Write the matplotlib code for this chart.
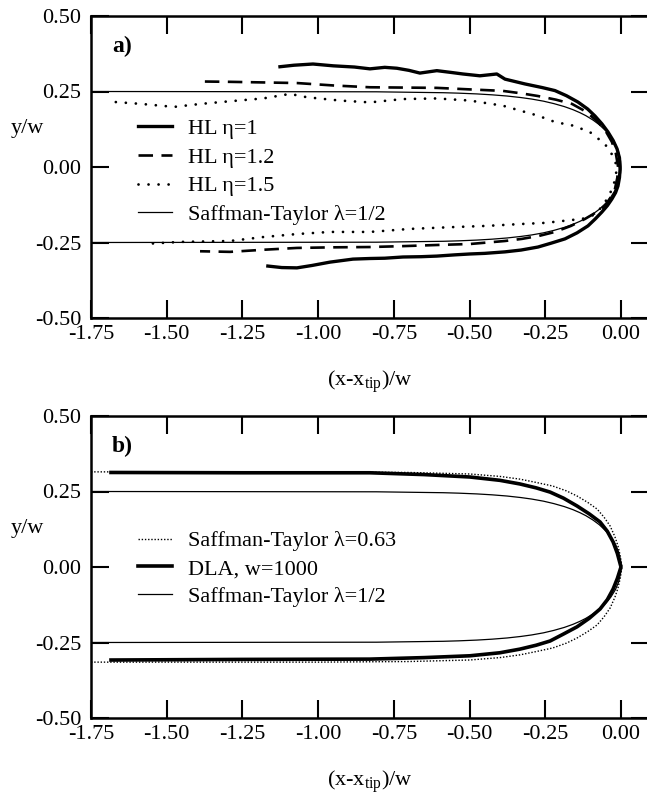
import matplotlib
matplotlib.use("Agg")
import matplotlib.pyplot as plt

plt.rcParams['font.family'] = ['Liberation Serif', 'DejaVu Serif']
plt.rcParams['mathtext.fontset'] = 'custom'
plt.rcParams['mathtext.rm'] = 'Liberation Serif'
plt.rcParams['mathtext.it'] = 'Liberation Serif:italic'

# ---- data (x = (x-x_tip)/w, y = y/w) ----
# Saffman-Taylor lambda=1/2, upper half (lower half is the mirror image)
st50_x = [0.0, -0.0013, -0.008, -0.0184, -0.0337, -0.0504, -0.0716, -0.0917, -0.116, -0.1358,
          -0.159, -0.187, -0.222, -0.256, -0.295, -0.331, -0.376, -0.426, -0.476, -0.536,
          -0.587, -0.699, -0.807, -1.75]
st50_y = [0.0, 0.02, 0.05, 0.075, 0.10, 0.12, 0.14, 0.155, 0.17, 0.18,
          0.19, 0.20, 0.21, 0.218, 0.225, 0.23, 0.235, 0.239, 0.242, 0.2445,
          0.246, 0.2475, 0.249, 0.25]

# Saffman-Taylor lambda=0.63, upper half
st63_x = [0.003, -0.002, -0.010, -0.020, -0.036, -0.056, -0.079, -0.110, -0.145, -0.180,
          -0.225, -0.280, -0.334, -0.400, -0.500, -0.700, -1.000, -1.750]
st63_y = [0.0, 0.035, 0.070, 0.100, 0.136, 0.165, 0.192, 0.214, 0.235, 0.252,
          0.268, 0.280, 0.291, 0.300, 0.308, 0.313, 0.315, 0.315]

# DLA, w=1000
dla_x = [0.0, -0.012, -0.026, -0.045, -0.069, -0.105, -0.145, -0.19, -0.234, -0.28,
         -0.334, -0.40, -0.499, -0.65, -0.829, -1.25, -1.684]
dla_top = [0.0, 0.045, 0.083, 0.118, 0.149, 0.176, 0.202, 0.228, 0.248, 0.262,
           0.275, 0.287, 0.298, 0.306, 0.312, 0.312, 0.313]
dla_bot = [0.0, -0.038, -0.073, -0.108, -0.139, -0.170, -0.198, -0.222, -0.245, -0.259,
           -0.272, -0.284, -0.294, -0.300, -0.305, -0.306, -0.308]

# HL eta=1 (one path: upper-left, round the tip, lower-left)
hl1_x = [-1.126, -1.08, -1.017, -0.95, -0.88, -0.829, -0.78, -0.740, -0.70, -0.664,
         -0.608, -0.56, -0.522, -0.466, -0.41, -0.383, -0.317, -0.26, -0.218, -0.18,
         -0.142, -0.11, -0.086, -0.063, -0.043, -0.026, -0.013, -0.005, -0.003, -0.005,
         -0.01, -0.018, -0.03, -0.045, -0.063, -0.085, -0.109, -0.145, -0.185, -0.23,
         -0.274, -0.33, -0.383, -0.45, -0.499, -0.55, -0.608, -0.66, -0.72, -0.78,
         -0.829, -0.885, -0.961, -1.02, -1.07, -1.12, -1.166]
hl1_y = [0.332, 0.337, 0.341, 0.335, 0.331, 0.325, 0.33, 0.327, 0.32, 0.311,
         0.319, 0.313, 0.308, 0.302, 0.308, 0.291, 0.275, 0.263, 0.253, 0.236,
         0.215, 0.192, 0.169, 0.143, 0.116, 0.088, 0.06, 0.03, -0.007, -0.035,
         -0.063, -0.085, -0.106, -0.128, -0.149, -0.172, -0.195, -0.218, -0.238, -0.252,
         -0.265, -0.275, -0.281, -0.286, -0.288, -0.291, -0.295, -0.297, -0.298, -0.302,
         -0.303, -0.305, -0.315, -0.326, -0.334, -0.333, -0.328]

# HL eta=1.2
hl12_x = [-1.374, -1.291, -1.18, -1.07, -0.95, -0.829, -0.72, -0.608, -0.50, -0.39,
          -0.33, -0.274, -0.215, -0.162, -0.115, -0.076, -0.05, -0.03, -0.017, -0.01,
          -0.012, -0.02, -0.035, -0.053, -0.085, -0.119, -0.165, -0.218, -0.27, -0.327,
          -0.383, -0.499, -0.60, -0.72, -0.829, -0.95, -1.07, -1.18, -1.291, -1.39]
hl12_y = [0.283, 0.282, 0.280, 0.278, 0.270, 0.264, 0.263, 0.262, 0.257, 0.252,
          0.244, 0.235, 0.223, 0.209, 0.183, 0.149, 0.118, 0.083, 0.045, 0.003,
          -0.035, -0.073, -0.102, -0.129, -0.152, -0.172, -0.195, -0.215, -0.228, -0.238,
          -0.245, -0.255, -0.258, -0.262, -0.265, -0.266, -0.268, -0.274, -0.281, -0.279]

# HL eta=1.5
hl15_x = [-1.668, -1.585, -1.476, -1.387, -1.288, -1.182, -1.093, -1.037, -0.928, -0.829,
          -0.72, -0.608, -0.499, -0.39, -0.274, -0.218, -0.158, -0.103, -0.053, -0.026,
          -0.013, -0.02, -0.035, -0.06, -0.096, -0.129, -0.168, -0.25, -0.334, -0.443,
          -0.555, -0.697, -0.829, -0.961, -1.07, -1.182, -1.291, -1.453, -1.578]
hl15_y = [0.215, 0.209, 0.199, 0.209, 0.218, 0.227, 0.242, 0.231, 0.22, 0.214,
          0.225, 0.227, 0.22, 0.203, 0.170, 0.149, 0.137, 0.116, 0.076, 0.036,
          0.0, -0.045, -0.085, -0.13, -0.162, -0.172, -0.176, -0.185, -0.189, -0.195,
          -0.199, -0.205, -0.215, -0.215, -0.222, -0.232, -0.245, -0.248, -0.255]

xticks = [-1.75, -1.50, -1.25, -1.00, -0.75, -0.50, -0.25, 0.00]
yticks = [-0.50, -0.25, 0.00, 0.25, 0.50]


def closed(xs, ys):
    # upper half from the tip outwards -> full symmetric finger
    return xs[::-1] + xs, ys[::-1] + [-v for v in ys]


W, H = 647, 795
fig = plt.figure(figsize=(W / 100, H / 100), dpi=100)

def make_axes(top_px):
    ax = fig.add_axes([91 / W, 1 - (top_px + 302) / H, 558 / W, 302 / H])
    ax.set_xlim(-1.75, 0.0925)
    ax.set_ylim(-0.5, 0.5)
    ax.set_xticks(xticks)
    ax.set_yticks(yticks)
    ax.set_xticklabels([f"{t:.2f}" for t in xticks])
    ax.set_yticklabels([f"{t:.2f}" for t in yticks])
    ax.tick_params(direction='in', length=13, width=1.5, top=True, right=True,
                   labelsize=16, pad=5)
    ax.tick_params(axis='y', pad=7)
    for s in ax.spines.values():
        s.set_linewidth(1.8)
    ax.set_xlabel('(x-x$_\\mathregular{tip}$)/w', fontsize=16)
    ax.xaxis.set_label_coords(0.5, -0.168)
    return ax

# ---- panel a ----
ax = make_axes(16)
sx, sy = closed(st50_x, st50_y)
ax.plot(hl1_x, hl1_y, color='black', lw=2.4, label='HL \u03b7=1')
ax.plot(hl12_x, hl12_y, color='black', lw=1.9, linestyle=(0, (5.5, 3.2)), label='HL \u03b7=1.2')
ax.plot(hl15_x, hl15_y, color='black', lw=2.0, linestyle=(0, (0.01, 3.6)),
        dash_capstyle='round', label='HL \u03b7=1.5')
ax.plot(sx, sy, color='black', lw=0.9, label='Saffman-Taylor \u03bb=1/2')
ax.legend(loc='upper left', bbox_to_anchor=(0.084, 0.66), frameon=False, fontsize=16,
          handlelength=1.55, handletextpad=0.72, labelspacing=0.36,
          borderpad=0, borderaxespad=0)
ax.text(0.038, 0.935, 'a)', transform=ax.transAxes, fontsize=17, fontweight='bold',
        ha='left', va='top')
fig.text(27 / W, 1 - 128 / H, 'y/w', fontsize=16, ha='center', va='center')

# ---- panel b ----
ax = make_axes(416)
px, py = closed(st63_x, st63_y)
ax.plot(px, py, color='black', lw=1.0, linestyle=(0, (1, 1.3)), label='Saffman-Taylor \u03bb=0.63')
ax.plot(dla_x[::-1] + dla_x, dla_top[::-1] + dla_bot, color='black', lw=2.6,
        label='DLA, w=1000')
ax.plot(sx, sy, color='black', lw=0.9, label='Saffman-Taylor \u03bb=1/2')
ax.legend(loc='upper left', bbox_to_anchor=(0.084, 0.62), frameon=False, fontsize=16,
          handlelength=1.55, handletextpad=0.72, labelspacing=0.33,
          borderpad=0, borderaxespad=0)
ax.text(0.038, 0.935, 'b)', transform=ax.transAxes, fontsize=17, fontweight='bold',
        ha='left', va='top')
fig.text(27 / W, 1 - 528 / H, 'y/w', fontsize=16, ha='center', va='center')

fig.savefig('out.png', dpi=100)
